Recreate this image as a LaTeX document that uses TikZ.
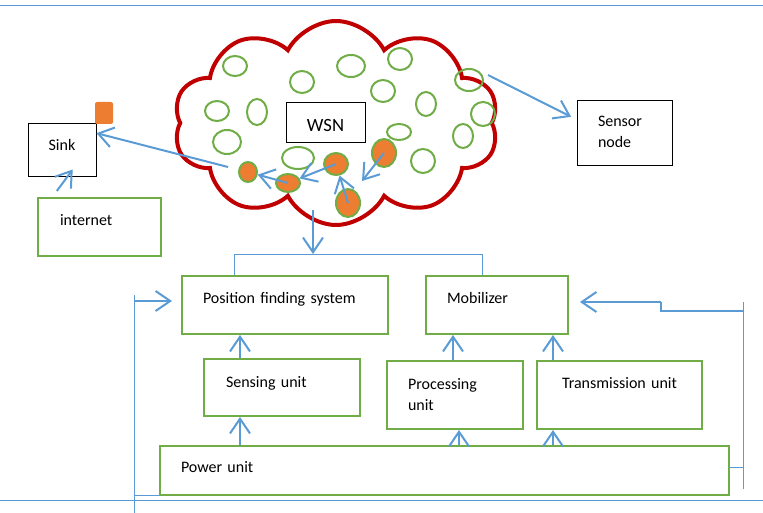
\documentclass[tikz,border=0pt]{standalone}
\usepackage{fontspec}
\setmainfont{Carlito}
\usetikzlibrary{arrows.meta,shapes.symbols,shapes.geometric,positioning}
\definecolor{wsnred}{RGB}{192,0,0}
\definecolor{nodegreen}{RGB}{112,173,71}
\definecolor{linkblue}{RGB}{91,155,213}
\definecolor{hotorange}{RGB}{237,125,49}
\newdimen\px \px=0.75pt
\begin{document}
\begin{tikzpicture}[x=0.75pt,y=-0.75pt]
	\tikzstyle{unit}=[draw=nodegreen,line width=2\px,fill=white,inner ysep=0pt,align=left,font=\fontsize{12}{15.75}\selectfont]
	\tikzstyle{blackbox}=[draw=black,line width=1\px,fill=white,inner sep=0pt,font=\fontsize{12}{15.75}\selectfont]
	\tikzstyle{link}=[draw=linkblue,line width=2\px,-{Straight Barb[length=11pt,width=15pt]}]
	\tikzstyle{wire}=[draw=linkblue,line width=1\px]
	\tikzstyle{sensor}=[ellipse,draw=nodegreen,line width=2\px,inner sep=0pt]
	\tikzstyle{relay}=[sensor,fill=hotorange]
	\useasboundingbox (0,0) rectangle (763,513);

	% page rules
	\coordinate (tl) at (0,6);
	\coordinate (tr) at (763,6);
	\coordinate (bl) at (0,500);
	\coordinate (br) at (763,500);
	\path[wire] (tl) -- (tr);
	\path[wire] (bl) -- (br);

	% the network
	\node [cloud,cloud puffs=10,cloud puff arc=125,draw=wsnred,line width=4\px,minimum width=325\px,minimum height=204\px] (wsncloud) at (336,123) {};
	\foreach \x/\y/\w/\h [count=\i] in {235/66/24/20,302/82/24/22,351/66/28/22,400/59/24/22,383/91/24/22,217/111/24/20,257/112/20/26,227/142/28/24,426/104/20/24,469/80/28/22,483/114/24/24,463/136/20/24,399/132/24/16,298/158/32/22,423/161/24/24}
		\node [sensor,minimum width=\w\px,minimum height=\h\px] (s\i) at (\x,\y) {};
	\node [relay,minimum width=18\px,minimum height=20\px] (ra) at (248,172) {};
	\node [relay,minimum width=24\px,minimum height=18\px] (rb) at (288,183) {};
	\node [relay,minimum width=24\px,minimum height=22\px] (rc) at (336,164) {};
	\node [relay,minimum width=24\px,minimum height=28\px] (rd) at (384,153) {};
	\node [relay,minimum width=24\px,minimum height=28\px] (re) at (348,203) {};
	\node [blackbox,minimum width=79\px,text height=29\px,text depth=11\px,font=\fontsize{14}{16}\selectfont] (wsn) at (325.5,123) {WSN};

	\coordinate (dtip) at (362,181);
	\path[link] (rc.center) to (rb);
	\path[link] (rb.center) to (ra);
	\path[link] (re.center) to (rc);
	\path[link] (rd.center) to (dtip);

	% sink side
	\node [blackbox,minimum width=68\px,text height=27\px,text depth=26\px] (sink) at (62,150.5) {Sink};
	\node [fill=hotorange,rounded corners=2\px,minimum width=18\px,minimum height=22\px,inner sep=0pt] (flag) at (104,113) {};
	\node [unit,inner xsep=22\px,text width=79\px,text height=27\px,text depth=31\px] (inet) at (99.5,227) {internet};
	\node [blackbox,inner xsep=21\px,text width=53\px,text height=26\px,text depth=39\px,align=left] (snode) at (624.5,133.5) {Sensor\\node};

	\coordinate (sinktail) at (228,167);
	\coordinate (nodetail) at (488,75);
	\path[link] (sinktail) to ([yshift=13pt]sink.east);
	\path[link] ([xshift=-32pt,yshift=4.5pt]inet.north) to ([xshift=8pt,yshift=6pt]sink.south);
	\path[link] (nodetail) to ([xshift=-4pt,yshift=12.5pt]snode.west);

	% the sensor node
	\node [unit,inner xsep=21\px,text width=164\px,text height=27\px,text depth=31\px] (pos) at (285,305) {Position finding system};
	\node [unit,inner xsep=21\px,text width=100\px,text height=27\px,text depth=31\px] (mob) at (497,305) {Mobilizer};
	\node [unit,inner xsep=22\px,text width=112\px,text height=28\px,text depth=29\px] (sens) at (282,387.5) {Sensing unit};
	\node [unit,inner xsep=21\px,text width=94\px,text height=28\px,text depth=40\px] (proc) at (455,395) {Processing\\unit};
	\node [unit,inner xsep=25\px,text width=115\px,text height=27\px,text depth=41\px] (trans) at (619.5,395) {\mbox{Transmission unit}};
	\node [unit,inner xsep=21\px,text width=527\px,text height=26\px,text depth=23\px] (power) at (444.5,470.5) {Power unit};

	\coordinate (sx) at (240,0);
	\coordinate (px) at (459,0);
	\coordinate (mx) at (453,0);
	\coordinate (tx) at (553,0);
	\path[link] (power.north -| sx) to (sens.south -| sx);
	\path[link] (sens.north -| sx) to (pos.south -| sx);
	\path[link] (power.north -| px) to (proc.south -| px);
	\path[link] (proc.north -| mx) to (mob.south -| mx);
	\path[link] (power.north -| tx) to (trans.south -| tx);
	\path[link] (trans.north -| tx) to (mob.south -| tx);

	% bus from the cloud
	\coordinate (busl) at (234,254);
	\coordinate (busr) at (482,254);
	\coordinate (drop) at (313,210);
	\path[wire] (pos.north -| busl) -- (busl) -- (busr) -- (busr |- mob.north);
	\path[link] (drop) to (drop |- busl);

	% feedback lines
	\coordinate (lt) at (134,295);
	\coordinate (lb) at (134,513);
	\coordinate (la) at (134,301);
	\coordinate (pl) at (134,495);
	\path[wire] (lt) -- (lb);
	\path[wire] (pl) -- (pl -| power.west);
	\path[link,shorten >=9\px] (la) to (la -| pos.west);

	\coordinate (rt) at (743,302);
	\coordinate (rb) at (743,489);
	\coordinate (rs) at (743,311);
	\coordinate (rk) at (661,311);
	\coordinate (rj) at (661,302);
	\coordinate (pe) at (729,467);
	\path[wire] (rt) -- (rb);
	\path[wire] (pe) -- (pe -| rt);
	\path[draw=linkblue,line width=2\px] (rs) -- (rk) -- (rj);
	\path[link,shorten >=11\px] (rj) to (rj -| mob.east);
\end{tikzpicture}
\end{document}
